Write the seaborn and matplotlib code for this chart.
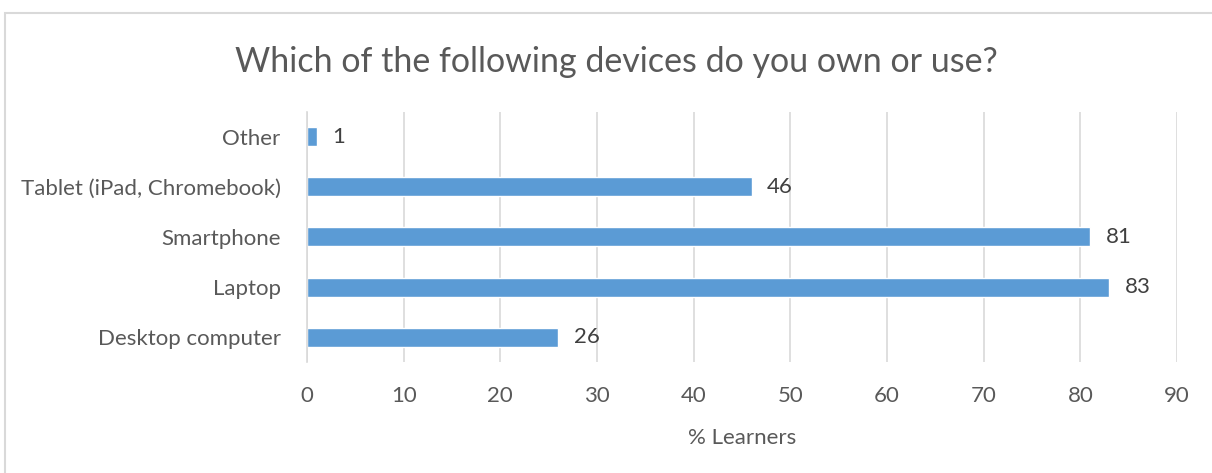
import numpy as np
import pandas as pd
import seaborn as sns
import matplotlib.pyplot as plt
from matplotlib.patches import Rectangle

devices = ['Other', 'Tablet (iPad, Chromebook)', 'Smartphone', 'Laptop', 'Desktop computer']
learners = [1, 46, 81, 83, 26]
x_ticks = [0, 10, 20, 30, 40, 50, 60, 70, 80, 90]

df = pd.DataFrame({'device': devices, 'pct': learners})

sns.set_style('white')
plt.rcParams['font.family'] = ['Lato', 'DejaVu Sans']

fig = plt.figure(figsize=(12.12, 4.73), dpi=100)
ax = fig.add_axes([307/1212, 1-362/473, 870/1212, 250/473])

sns.barplot(data=df, x='pct', y='device', order=devices, color='#5b9bd5',
            saturation=1, width=0.38, ax=ax)

ax.set_xlim(0, 90)
ax.set_ylim(4.5, -0.5)
ax.set_xticks(x_ticks)
ax.grid(axis='x', color='#d9d9d9', linewidth=1.2)
ax.set_axisbelow(True)
for s in ['top', 'right', 'bottom']:
    ax.spines[s].set_visible(False)
ax.spines['left'].set_color('#d9d9d9')
ax.spines['left'].set_linewidth(1.2)
ax.tick_params(axis='both', length=0, labelsize=16, labelcolor='#595959')
ax.tick_params(axis='x', pad=17)
ax.tick_params(axis='y', pad=19)
ax.set_ylabel('')
ax.set_xlabel('% Learners', fontsize=16, color='#595959', labelpad=16)

for i, v in enumerate(learners):
    ax.text(v + 1.6, i, str(v), va='center', ha='left', fontsize=16, color='#404040')

fig.text(616/1212, 1-62/473, 'Which of the following devices do you own or use?',
         ha='center', va='center', fontsize=24.5, color='#595959')

fig.patches.append(Rectangle((5/1212, -0.1), 1.2, 1-13/473+0.1, transform=fig.transFigure,
                             fill=False, edgecolor='#d9d9d9', linewidth=1.5))

fig.savefig('out.png', dpi=100)
